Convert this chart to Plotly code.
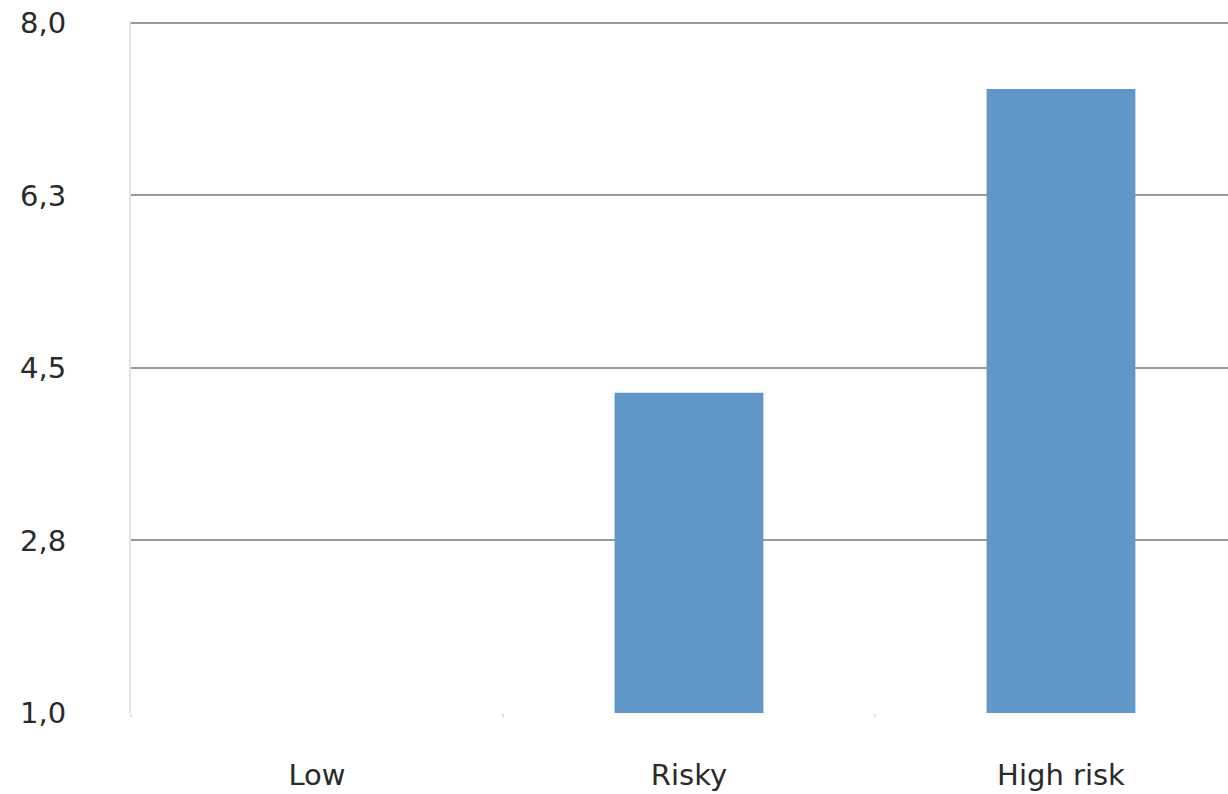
import plotly.graph_objects as go

categories = ["Low", "Risky", "High risk"]
values = [1.0, 4.25, 7.33]
y_tickvals = [1.0, 2.75, 4.5, 6.25, 8.0]
y_ticktext = ["1,0", "2,8", "4,5", "6,3", "8,0"]

fig = go.Figure(go.Bar(
    x=categories,
    y=values,
    width=0.40,
    marker=dict(color="#6096C8", line=dict(width=0)),
))

fig.update_layout(
    width=1228, height=794,
    margin=dict(l=131, r=0, t=21, b=81),
    paper_bgcolor="white", plot_bgcolor="white",
    font=dict(family="DejaVu Sans", size=29, color="#2a2a2a"),
    showlegend=False,
    xaxis=dict(
        range=[-0.5, 2.449],
        showgrid=False,
        showline=True, linecolor="white", linewidth=1,
        ticks="outside", tickson="boundaries", ticklen=3, tickwidth=2,
        tickcolor="#dddddd",
        tickfont=dict(size=29, color="#2a2a2a"),
        ticklabelstandoff=36,
    ),
    yaxis=dict(
        range=[1.0, 8.02],
        tickvals=y_tickvals, ticktext=y_ticktext,
        showgrid=True, gridcolor="#9a9a9a", gridwidth=2,
        zeroline=False,
        showline=True, linecolor="#e2e2e2", linewidth=2,
        ticks="", ticklabelstandoff=57,
        tickfont=dict(size=29, color="#2a2a2a"),
    ),
)

fig.write_html("out.html")
